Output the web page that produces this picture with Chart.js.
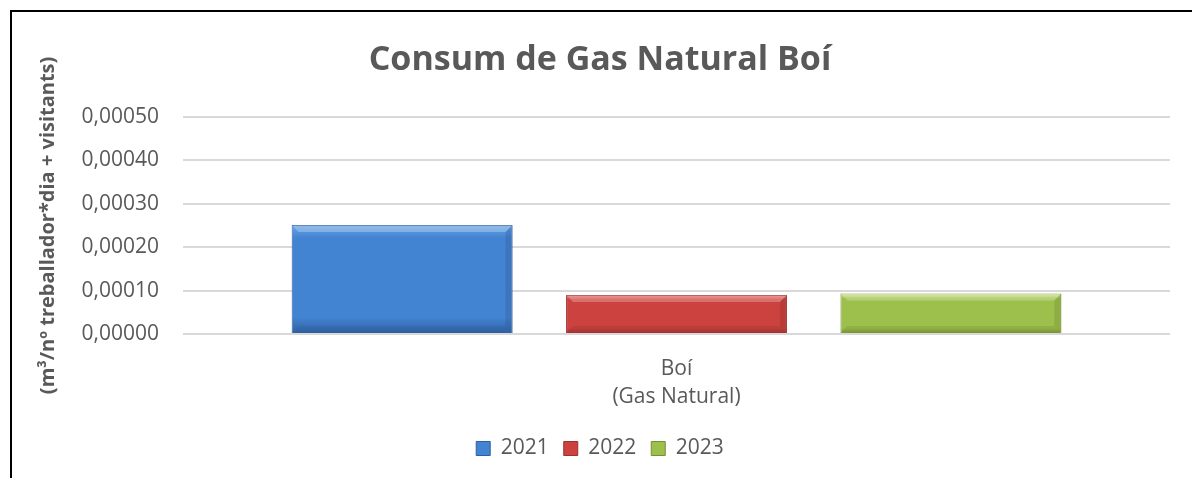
<!DOCTYPE html>
<html>
<head>
<meta charset="utf-8">
<title>Consum de Gas Natural Boí</title>
<script src="https://cdn.jsdelivr.net/npm/chart.js@4.4.1/dist/chart.umd.min.js"></script>
<style>
  html, body { margin: 0; padding: 0; background: #fff; }
  #wrap { position: relative; width: 1192px; height: 478px; }
  #frame {
    position: absolute; left: 10px; top: 10px; right: 0; bottom: 0;
    border-top: 2px solid #000; border-left: 2px solid #000;
    pointer-events: none;
  }
  canvas { position: absolute; left: 0; top: 0; }
</style>
</head>
<body>
<div id="wrap">
  <canvas id="chart" width="1192" height="478"></canvas>
  <div id="frame"></div>
</div>
<script>
// dades llegides del gràfic
const categories = [['Boí', '(Gas Natural)']];
const years = ['2021', '2022', '2023'];
const values2021 = [0.000251];
const values2022 = [0.000090];
const values2023 = [0.000093];
const yTicks = [0, 0.0001, 0.0002, 0.0003, 0.0004, 0.0005];

const textGray = '#595959';
const font = 'Open Sans';

// colors de cada any: clar (dalt), mig, fosc (baix)
const palettes = {
  '2021': ['#6aa6e6', '#4283d2', '#2f5f9e'],
  '2022': ['#f27a78', '#cc423e', '#993230'],
  '2023': ['#d2ec86', '#9dbf4c', '#748f35'],
};

// gradient vertical per barra, calculat amb l'escala del propi gràfic
function barFill(year) {
  return (ctx) => {
    const chart = ctx.chart;
    const pal = palettes[year];
    if (!chart.chartArea || ctx.type !== 'data') return pal[1];
    const y = chart.scales.y;
    const top = y.getPixelForValue(ctx.raw);
    const base = y.getPixelForValue(0);
    const g = chart.ctx.createLinearGradient(0, top, 0, base);
    g.addColorStop(0, pal[0]);
    g.addColorStop(0.12, pal[1]);
    g.addColorStop(0.85, pal[1]);
    g.addColorStop(1, pal[2]);
    return g;
  };
}

function makeDataset(year, values) {
  return {
    label: year,
    data: values,
    backgroundColor: barFill(year),
    borderColor: palettes[year][2],
    borderWidth: 1,
    categoryPercentage: 0.834,
    barPercentage: 0.805,
  };
}

// bisell de les barres, com a l'original d'Excel
const bevelPlugin = {
  id: 'bevel',
  afterDatasetsDraw(chart) {
    const c = chart.ctx;
    chart.data.datasets.forEach((ds, i) => {
      const pal = palettes[ds.label];
      chart.getDatasetMeta(i).data.forEach((bar) => {
        const left = bar.x - bar.width / 2;
        const right = bar.x + bar.width / 2;
        const top = bar.y;
        const bottom = bar.base;
        const b = 7;
        c.save();
        // costat dret fosc
        c.globalAlpha = 0.35;
        c.fillStyle = pal[2];
        c.beginPath();
        c.moveTo(right, top);
        c.lineTo(right - b, top + b);
        c.lineTo(right - b, bottom - b);
        c.lineTo(right, bottom);
        c.closePath();
        c.fill();
        // part de baix fosca
        c.globalAlpha = 0.3;
        c.beginPath();
        c.moveTo(left, bottom);
        c.lineTo(left + b, bottom - b);
        c.lineTo(right - b, bottom - b);
        c.lineTo(right, bottom);
        c.closePath();
        c.fill();
        // part de dalt clara
        c.fillStyle = '#ffffff';
        c.globalAlpha = 0.25;
        c.beginPath();
        c.moveTo(left, top);
        c.lineTo(left + b, top + b);
        c.lineTo(right - b, top + b);
        c.lineTo(right, top);
        c.closePath();
        c.fill();
        c.restore();
      });
    });
  }
};

new Chart(document.getElementById('chart'), {
  type: 'bar',
  data: {
    labels: categories,
    datasets: [
      makeDataset(years[0], values2021),
      makeDataset(years[1], values2022),
      makeDataset(years[2], values2023),
    ],
  },
  options: {
    responsive: false,
    animation: false,
    layout: { padding: { top: 40, left: 30, right: 22, bottom: 9 } },
    plugins: {
      title: {
        display: true,
        text: 'Consum de Gas Natural Boí',
        color: textGray,
        font: { family: font, size: 34, weight: 'bold' },
        padding: { top: 0, bottom: 36 },
      },
      legend: {
        position: 'bottom',
        labels: {
          color: textGray,
          font: { family: font, size: 21 },
          boxWidth: 14,
          boxHeight: 14,
          padding: 15,
          generateLabels(chart) {
            return chart.data.datasets.map((ds, i) => ({
              text: ds.label,
              fillStyle: palettes[ds.label][1],
              strokeStyle: palettes[ds.label][2],
              lineWidth: 1,
              datasetIndex: i,
              fontColor: textGray,
            }));
          },
        },
      },
      tooltip: { enabled: false },
    },
    scales: {
      x: {
        grid: { display: false },
        border: { display: false },
        afterFit(scale) { scale.height = 89; },
        ticks: {
          color: textGray,
          font: { family: font, size: 21, lineHeight: 1.33 },
          padding: 13,
        },
      },
      y: {
        min: 0,
        max: 0.0005,
        afterBuildTicks(scale) {
          scale.ticks = yTicks.map((v) => ({ value: v }));
        },
        afterFit(scale) { scale.width = 153; },
        grid: { color: '#d9d9d9', lineWidth: 2, drawTicks: false },
        border: { display: false },
        ticks: {
          color: textGray,
          font: { family: font, size: 21 },
          padding: 24,
          callback: (v) => v.toFixed(5).replace('.', ','),
        },
        title: {
          display: true,
          text: '(m³/nº treballador*dia + visitants)',
          color: textGray,
          font: { family: font, size: 20, weight: 'bold' },
          padding: { top: 6, bottom: 0 },
        },
      },
    },
  },
  plugins: [bevelPlugin],
});
</script>
</body>
</html>
